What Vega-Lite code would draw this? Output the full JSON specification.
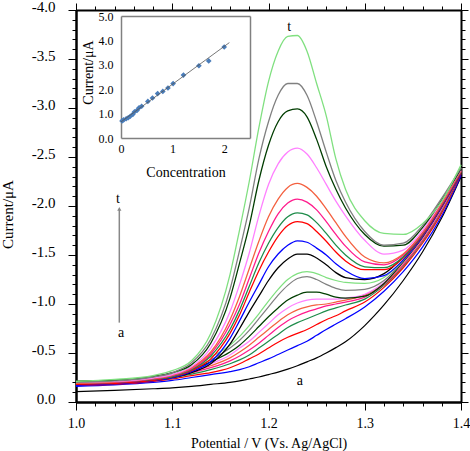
{
"$schema":"https://vega.github.io/schema/vega-lite/v6.json",
"autosize":{"type":"none"},
"width":385,"height":392,
"padding":{"left":76,"top":10,"right":9,"bottom":49},
"background":"white",
"config":{"view":{"stroke":null},
"axis":{"grid":false,"labelFont":"Liberation Serif","titleFont":"Liberation Serif","domainColor":"#000","tickColor":"#000","labelColor":"#000","titleColor":"#000","titleFontWeight":"normal","labelFlush":false,"labelOverlap":false},
"text":{"font":"Liberation Serif"}},
"datasets":{
"curves":[
{"s":"a","x":1,"y":-0.105},{"s":"a","x":1.04,"y":-0.118},{"s":"a","x":1.08,"y":-0.135},{"s":"a","x":1.1,"y":-0.145},{"s":"a","x":1.12,"y":-0.16},{"s":"a","x":1.14,"y":-0.18},{"s":"a","x":1.16,"y":-0.2},{"s":"a","x":1.17,"y":-0.215},{"s":"a","x":1.18,"y":-0.235},{"s":"a","x":1.19,"y":-0.255},{"s":"a","x":1.2,"y":-0.28},{"s":"a","x":1.21,"y":-0.305},{"s":"a","x":1.22,"y":-0.335},{"s":"a","x":1.23,"y":-0.37},{"s":"a","x":1.24,"y":-0.41},{"s":"a","x":1.25,"y":-0.45},{"s":"a","x":1.26,"y":-0.5},{"s":"a","x":1.27,"y":-0.555},{"s":"a","x":1.28,"y":-0.615},{"s":"a","x":1.3,"y":-0.78},{"s":"a","x":1.32,"y":-0.99},{"s":"a","x":1.34,"y":-1.24},{"s":"a","x":1.36,"y":-1.53},{"s":"a","x":1.38,"y":-1.88},{"s":"a","x":1.4,"y":-2.3},
{"s":"b","x":1,"y":-0.16},{"s":"b","x":1.04,"y":-0.175},{"s":"b","x":1.08,"y":-0.2},{"s":"b","x":1.1,"y":-0.22},{"s":"b","x":1.12,"y":-0.25},{"s":"b","x":1.14,"y":-0.28},{"s":"b","x":1.16,"y":-0.31},{"s":"b","x":1.17,"y":-0.33},{"s":"b","x":1.18,"y":-0.36},{"s":"b","x":1.19,"y":-0.4},{"s":"b","x":1.2,"y":-0.44},{"s":"b","x":1.21,"y":-0.485},{"s":"b","x":1.22,"y":-0.53},{"s":"b","x":1.23,"y":-0.575},{"s":"b","x":1.24,"y":-0.62},{"s":"b","x":1.25,"y":-0.68},{"s":"b","x":1.26,"y":-0.74},{"s":"b","x":1.27,"y":-0.795},{"s":"b","x":1.28,"y":-0.85},{"s":"b","x":1.3,"y":-0.97},{"s":"b","x":1.32,"y":-1.13},{"s":"b","x":1.34,"y":-1.33},{"s":"b","x":1.36,"y":-1.58},{"s":"b","x":1.38,"y":-1.9},{"s":"b","x":1.4,"y":-2.31},
{"s":"c","x":1,"y":-0.17},{"s":"c","x":1.04,"y":-0.18},{"s":"c","x":1.08,"y":-0.21},{"s":"c","x":1.1,"y":-0.235},{"s":"c","x":1.12,"y":-0.27},{"s":"c","x":1.14,"y":-0.3},{"s":"c","x":1.16,"y":-0.35},{"s":"c","x":1.17,"y":-0.39},{"s":"c","x":1.18,"y":-0.44},{"s":"c","x":1.19,"y":-0.49},{"s":"c","x":1.2,"y":-0.55},{"s":"c","x":1.21,"y":-0.61},{"s":"c","x":1.22,"y":-0.66},{"s":"c","x":1.23,"y":-0.7},{"s":"c","x":1.24,"y":-0.74},{"s":"c","x":1.25,"y":-0.79},{"s":"c","x":1.26,"y":-0.84},{"s":"c","x":1.27,"y":-0.88},{"s":"c","x":1.28,"y":-0.93},{"s":"c","x":1.3,"y":-1.02},{"s":"c","x":1.32,"y":-1.17},{"s":"c","x":1.34,"y":-1.37},{"s":"c","x":1.36,"y":-1.62},{"s":"c","x":1.38,"y":-1.93},{"s":"c","x":1.4,"y":-2.33},
{"s":"d","x":1,"y":-0.18},{"s":"d","x":1.04,"y":-0.19},{"s":"d","x":1.08,"y":-0.22},{"s":"d","x":1.1,"y":-0.245},{"s":"d","x":1.12,"y":-0.285},{"s":"d","x":1.14,"y":-0.33},{"s":"d","x":1.16,"y":-0.39},{"s":"d","x":1.17,"y":-0.43},{"s":"d","x":1.18,"y":-0.48},{"s":"d","x":1.19,"y":-0.55},{"s":"d","x":1.2,"y":-0.62},{"s":"d","x":1.21,"y":-0.69},{"s":"d","x":1.22,"y":-0.76},{"s":"d","x":1.23,"y":-0.81},{"s":"d","x":1.24,"y":-0.85},{"s":"d","x":1.25,"y":-0.89},{"s":"d","x":1.26,"y":-0.93},{"s":"d","x":1.27,"y":-0.96},{"s":"d","x":1.28,"y":-0.99},{"s":"d","x":1.3,"y":-1.05},{"s":"d","x":1.32,"y":-1.19},{"s":"d","x":1.34,"y":-1.39},{"s":"d","x":1.36,"y":-1.64},{"s":"d","x":1.38,"y":-1.95},{"s":"d","x":1.4,"y":-2.34},
{"s":"e","x":1,"y":-0.18},{"s":"e","x":1.04,"y":-0.195},{"s":"e","x":1.08,"y":-0.225},{"s":"e","x":1.1,"y":-0.255},{"s":"e","x":1.12,"y":-0.3},{"s":"e","x":1.14,"y":-0.35},{"s":"e","x":1.16,"y":-0.42},{"s":"e","x":1.17,"y":-0.47},{"s":"e","x":1.18,"y":-0.53},{"s":"e","x":1.19,"y":-0.6},{"s":"e","x":1.2,"y":-0.68},{"s":"e","x":1.21,"y":-0.76},{"s":"e","x":1.22,"y":-0.83},{"s":"e","x":1.23,"y":-0.88},{"s":"e","x":1.24,"y":-0.92},{"s":"e","x":1.25,"y":-0.95},{"s":"e","x":1.26,"y":-0.98},{"s":"e","x":1.27,"y":-1.0},{"s":"e","x":1.28,"y":-1.02},{"s":"e","x":1.3,"y":-1.07},{"s":"e","x":1.32,"y":-1.2},{"s":"e","x":1.34,"y":-1.4},{"s":"e","x":1.36,"y":-1.65},{"s":"e","x":1.38,"y":-1.96},{"s":"e","x":1.4,"y":-2.35},
{"s":"f","x":1,"y":-0.19},{"s":"f","x":1.04,"y":-0.2},{"s":"f","x":1.08,"y":-0.235},{"s":"f","x":1.1,"y":-0.265},{"s":"f","x":1.12,"y":-0.31},{"s":"f","x":1.14,"y":-0.37},{"s":"f","x":1.16,"y":-0.45},{"s":"f","x":1.17,"y":-0.51},{"s":"f","x":1.18,"y":-0.58},{"s":"f","x":1.19,"y":-0.66},{"s":"f","x":1.2,"y":-0.74},{"s":"f","x":1.21,"y":-0.82},{"s":"f","x":1.22,"y":-0.89},{"s":"f","x":1.23,"y":-0.94},{"s":"f","x":1.24,"y":-0.97},{"s":"f","x":1.25,"y":-0.99},{"s":"f","x":1.26,"y":-1.0},{"s":"f","x":1.27,"y":-1.02},{"s":"f","x":1.28,"y":-1.04},{"s":"f","x":1.3,"y":-1.09},{"s":"f","x":1.32,"y":-1.21},{"s":"f","x":1.34,"y":-1.41},{"s":"f","x":1.36,"y":-1.66},{"s":"f","x":1.38,"y":-1.97},{"s":"f","x":1.4,"y":-2.35},
{"s":"g","x":1,"y":-0.19},{"s":"g","x":1.04,"y":-0.205},{"s":"g","x":1.08,"y":-0.24},{"s":"g","x":1.1,"y":-0.27},{"s":"g","x":1.12,"y":-0.32},{"s":"g","x":1.14,"y":-0.39},{"s":"g","x":1.16,"y":-0.48},{"s":"g","x":1.17,"y":-0.55},{"s":"g","x":1.18,"y":-0.62},{"s":"g","x":1.19,"y":-0.71},{"s":"g","x":1.2,"y":-0.8},{"s":"g","x":1.21,"y":-0.89},{"s":"g","x":1.22,"y":-0.96},{"s":"g","x":1.23,"y":-1.01},{"s":"g","x":1.24,"y":-1.04},{"s":"g","x":1.25,"y":-1.05},{"s":"g","x":1.26,"y":-1.05},{"s":"g","x":1.27,"y":-1.05},{"s":"g","x":1.28,"y":-1.06},{"s":"g","x":1.3,"y":-1.1},{"s":"g","x":1.32,"y":-1.22},{"s":"g","x":1.34,"y":-1.42},{"s":"g","x":1.36,"y":-1.67},{"s":"g","x":1.38,"y":-1.98},{"s":"g","x":1.4,"y":-2.36},
{"s":"h","x":1,"y":-0.21},{"s":"h","x":1.04,"y":-0.22},{"s":"h","x":1.08,"y":-0.25},{"s":"h","x":1.1,"y":-0.28},{"s":"h","x":1.12,"y":-0.33},{"s":"h","x":1.14,"y":-0.41},{"s":"h","x":1.16,"y":-0.51},{"s":"h","x":1.17,"y":-0.58},{"s":"h","x":1.18,"y":-0.67},{"s":"h","x":1.19,"y":-0.77},{"s":"h","x":1.2,"y":-0.87},{"s":"h","x":1.21,"y":-0.96},{"s":"h","x":1.22,"y":-1.04},{"s":"h","x":1.23,"y":-1.09},{"s":"h","x":1.24,"y":-1.12},{"s":"h","x":1.25,"y":-1.12},{"s":"h","x":1.26,"y":-1.1},{"s":"h","x":1.27,"y":-1.07},{"s":"h","x":1.28,"y":-1.06},{"s":"h","x":1.3,"y":-1.08},{"s":"h","x":1.32,"y":-1.21},{"s":"h","x":1.34,"y":-1.43},{"s":"h","x":1.36,"y":-1.68},{"s":"h","x":1.38,"y":-1.99},{"s":"h","x":1.4,"y":-2.37},
{"s":"i","x":1,"y":-0.2},{"s":"i","x":1.04,"y":-0.215},{"s":"i","x":1.08,"y":-0.25},{"s":"i","x":1.1,"y":-0.285},{"s":"i","x":1.12,"y":-0.34},{"s":"i","x":1.14,"y":-0.43},{"s":"i","x":1.16,"y":-0.55},{"s":"i","x":1.17,"y":-0.63},{"s":"i","x":1.18,"y":-0.73},{"s":"i","x":1.19,"y":-0.85},{"s":"i","x":1.2,"y":-0.97},{"s":"i","x":1.21,"y":-1.09},{"s":"i","x":1.22,"y":-1.19},{"s":"i","x":1.23,"y":-1.26},{"s":"i","x":1.24,"y":-1.28},{"s":"i","x":1.25,"y":-1.25},{"s":"i","x":1.26,"y":-1.2},{"s":"i","x":1.27,"y":-1.16},{"s":"i","x":1.28,"y":-1.14},{"s":"i","x":1.3,"y":-1.15},{"s":"i","x":1.32,"y":-1.24},{"s":"i","x":1.34,"y":-1.44},{"s":"i","x":1.36,"y":-1.69},{"s":"i","x":1.38,"y":-2.0},{"s":"i","x":1.4,"y":-2.38},
{"s":"j","x":1,"y":-0.21},{"s":"j","x":1.04,"y":-0.225},{"s":"j","x":1.08,"y":-0.26},{"s":"j","x":1.1,"y":-0.295},{"s":"j","x":1.12,"y":-0.36},{"s":"j","x":1.14,"y":-0.46},{"s":"j","x":1.16,"y":-0.58},{"s":"j","x":1.17,"y":-0.67},{"s":"j","x":1.18,"y":-0.78},{"s":"j","x":1.19,"y":-0.9},{"s":"j","x":1.2,"y":-1.03},{"s":"j","x":1.21,"y":-1.15},{"s":"j","x":1.22,"y":-1.25},{"s":"j","x":1.23,"y":-1.31},{"s":"j","x":1.24,"y":-1.33},{"s":"j","x":1.25,"y":-1.31},{"s":"j","x":1.26,"y":-1.27},{"s":"j","x":1.27,"y":-1.24},{"s":"j","x":1.28,"y":-1.22},{"s":"j","x":1.3,"y":-1.21},{"s":"j","x":1.32,"y":-1.27},{"s":"j","x":1.34,"y":-1.45},{"s":"j","x":1.36,"y":-1.7},{"s":"j","x":1.38,"y":-2.01},{"s":"j","x":1.4,"y":-2.39},
{"s":"k","x":1,"y":-0.18},{"s":"k","x":1.04,"y":-0.19},{"s":"k","x":1.08,"y":-0.22},{"s":"k","x":1.1,"y":-0.25},{"s":"k","x":1.12,"y":-0.3},{"s":"k","x":1.14,"y":-0.39},{"s":"k","x":1.16,"y":-0.59},{"s":"k","x":1.17,"y":-0.75},{"s":"k","x":1.18,"y":-0.92},{"s":"k","x":1.19,"y":-1.08},{"s":"k","x":1.2,"y":-1.24},{"s":"k","x":1.21,"y":-1.37},{"s":"k","x":1.22,"y":-1.46},{"s":"k","x":1.23,"y":-1.51},{"s":"k","x":1.24,"y":-1.51},{"s":"k","x":1.25,"y":-1.47},{"s":"k","x":1.26,"y":-1.4},{"s":"k","x":1.27,"y":-1.32},{"s":"k","x":1.28,"y":-1.27},{"s":"k","x":1.3,"y":-1.25},{"s":"k","x":1.32,"y":-1.31},{"s":"k","x":1.34,"y":-1.48},{"s":"k","x":1.36,"y":-1.71},{"s":"k","x":1.38,"y":-2.0},{"s":"k","x":1.4,"y":-2.34},
{"s":"l","x":1,"y":-0.17},{"s":"l","x":1.04,"y":-0.185},{"s":"l","x":1.08,"y":-0.215},{"s":"l","x":1.1,"y":-0.245},{"s":"l","x":1.12,"y":-0.31},{"s":"l","x":1.14,"y":-0.41},{"s":"l","x":1.16,"y":-0.65},{"s":"l","x":1.17,"y":-0.83},{"s":"l","x":1.18,"y":-1.02},{"s":"l","x":1.19,"y":-1.2},{"s":"l","x":1.2,"y":-1.38},{"s":"l","x":1.21,"y":-1.51},{"s":"l","x":1.22,"y":-1.6},{"s":"l","x":1.23,"y":-1.645},{"s":"l","x":1.24,"y":-1.63},{"s":"l","x":1.25,"y":-1.57},{"s":"l","x":1.26,"y":-1.5},{"s":"l","x":1.27,"y":-1.41},{"s":"l","x":1.28,"y":-1.34},{"s":"l","x":1.3,"y":-1.26},{"s":"l","x":1.32,"y":-1.29},{"s":"l","x":1.34,"y":-1.45},{"s":"l","x":1.36,"y":-1.69},{"s":"l","x":1.38,"y":-1.99},{"s":"l","x":1.4,"y":-2.33},
{"s":"m","x":1,"y":-0.18},{"s":"m","x":1.04,"y":-0.19},{"s":"m","x":1.08,"y":-0.22},{"s":"m","x":1.1,"y":-0.255},{"s":"m","x":1.12,"y":-0.32},{"s":"m","x":1.14,"y":-0.44},{"s":"m","x":1.16,"y":-0.7},{"s":"m","x":1.17,"y":-0.89},{"s":"m","x":1.18,"y":-1.12},{"s":"m","x":1.19,"y":-1.34},{"s":"m","x":1.2,"y":-1.53},{"s":"m","x":1.21,"y":-1.69},{"s":"m","x":1.22,"y":-1.8},{"s":"m","x":1.23,"y":-1.84},{"s":"m","x":1.24,"y":-1.82},{"s":"m","x":1.25,"y":-1.74},{"s":"m","x":1.26,"y":-1.64},{"s":"m","x":1.27,"y":-1.53},{"s":"m","x":1.28,"y":-1.44},{"s":"m","x":1.3,"y":-1.35},{"s":"m","x":1.32,"y":-1.35},{"s":"m","x":1.34,"y":-1.47},{"s":"m","x":1.36,"y":-1.7},{"s":"m","x":1.38,"y":-2.0},{"s":"m","x":1.4,"y":-2.34},
{"s":"n","x":1,"y":-0.19},{"s":"n","x":1.04,"y":-0.2},{"s":"n","x":1.08,"y":-0.23},{"s":"n","x":1.1,"y":-0.26},{"s":"n","x":1.12,"y":-0.33},{"s":"n","x":1.14,"y":-0.47},{"s":"n","x":1.16,"y":-0.74},{"s":"n","x":1.17,"y":-0.94},{"s":"n","x":1.18,"y":-1.18},{"s":"n","x":1.19,"y":-1.42},{"s":"n","x":1.2,"y":-1.62},{"s":"n","x":1.21,"y":-1.78},{"s":"n","x":1.22,"y":-1.89},{"s":"n","x":1.23,"y":-1.93},{"s":"n","x":1.24,"y":-1.91},{"s":"n","x":1.25,"y":-1.83},{"s":"n","x":1.26,"y":-1.72},{"s":"n","x":1.27,"y":-1.6},{"s":"n","x":1.28,"y":-1.5},{"s":"n","x":1.3,"y":-1.38},{"s":"n","x":1.32,"y":-1.37},{"s":"n","x":1.34,"y":-1.48},{"s":"n","x":1.36,"y":-1.71},{"s":"n","x":1.38,"y":-2.01},{"s":"n","x":1.4,"y":-2.35},
{"s":"o","x":1,"y":-0.19},{"s":"o","x":1.04,"y":-0.2},{"s":"o","x":1.08,"y":-0.235},{"s":"o","x":1.1,"y":-0.27},{"s":"o","x":1.12,"y":-0.34},{"s":"o","x":1.14,"y":-0.49},{"s":"o","x":1.16,"y":-0.79},{"s":"o","x":1.17,"y":-1.0},{"s":"o","x":1.18,"y":-1.26},{"s":"o","x":1.19,"y":-1.52},{"s":"o","x":1.2,"y":-1.74},{"s":"o","x":1.21,"y":-1.92},{"s":"o","x":1.22,"y":-2.03},{"s":"o","x":1.23,"y":-2.07},{"s":"o","x":1.24,"y":-2.04},{"s":"o","x":1.25,"y":-1.96},{"s":"o","x":1.26,"y":-1.84},{"s":"o","x":1.27,"y":-1.71},{"s":"o","x":1.28,"y":-1.59},{"s":"o","x":1.3,"y":-1.43},{"s":"o","x":1.32,"y":-1.4},{"s":"o","x":1.34,"y":-1.5},{"s":"o","x":1.36,"y":-1.72},{"s":"o","x":1.38,"y":-2.02},{"s":"o","x":1.4,"y":-2.36},
{"s":"p","x":1,"y":-0.19},{"s":"p","x":1.04,"y":-0.205},{"s":"p","x":1.08,"y":-0.24},{"s":"p","x":1.1,"y":-0.275},{"s":"p","x":1.12,"y":-0.35},{"s":"p","x":1.14,"y":-0.51},{"s":"p","x":1.16,"y":-0.84},{"s":"p","x":1.17,"y":-1.08},{"s":"p","x":1.18,"y":-1.36},{"s":"p","x":1.19,"y":-1.64},{"s":"p","x":1.2,"y":-1.89},{"s":"p","x":1.21,"y":-2.07},{"s":"p","x":1.22,"y":-2.19},{"s":"p","x":1.23,"y":-2.23},{"s":"p","x":1.24,"y":-2.19},{"s":"p","x":1.25,"y":-2.1},{"s":"p","x":1.26,"y":-1.97},{"s":"p","x":1.27,"y":-1.83},{"s":"p","x":1.28,"y":-1.69},{"s":"p","x":1.3,"y":-1.48},{"s":"p","x":1.32,"y":-1.42},{"s":"p","x":1.34,"y":-1.51},{"s":"p","x":1.36,"y":-1.73},{"s":"p","x":1.38,"y":-2.03},{"s":"p","x":1.4,"y":-2.36},
{"s":"q","x":1,"y":-0.2},{"s":"q","x":1.04,"y":-0.21},{"s":"q","x":1.08,"y":-0.245},{"s":"q","x":1.1,"y":-0.28},{"s":"q","x":1.12,"y":-0.36},{"s":"q","x":1.14,"y":-0.55},{"s":"q","x":1.16,"y":-0.92},{"s":"q","x":1.17,"y":-1.2},{"s":"q","x":1.18,"y":-1.52},{"s":"q","x":1.19,"y":-1.9},{"s":"q","x":1.2,"y":-2.22},{"s":"q","x":1.21,"y":-2.43},{"s":"q","x":1.22,"y":-2.55},{"s":"q","x":1.23,"y":-2.59},{"s":"q","x":1.24,"y":-2.53},{"s":"q","x":1.25,"y":-2.39},{"s":"q","x":1.26,"y":-2.22},{"s":"q","x":1.27,"y":-2.05},{"s":"q","x":1.28,"y":-1.9},{"s":"q","x":1.3,"y":-1.65},{"s":"q","x":1.32,"y":-1.51},{"s":"q","x":1.34,"y":-1.55},{"s":"q","x":1.36,"y":-1.75},{"s":"q","x":1.38,"y":-2.05},{"s":"q","x":1.4,"y":-2.37},
{"s":"r","x":1,"y":-0.21},{"s":"r","x":1.04,"y":-0.22},{"s":"r","x":1.08,"y":-0.26},{"s":"r","x":1.1,"y":-0.3},{"s":"r","x":1.12,"y":-0.38},{"s":"r","x":1.14,"y":-0.6},{"s":"r","x":1.16,"y":-1.06},{"s":"r","x":1.17,"y":-1.42},{"s":"r","x":1.18,"y":-1.8},{"s":"r","x":1.19,"y":-2.26},{"s":"r","x":1.2,"y":-2.62},{"s":"r","x":1.21,"y":-2.86},{"s":"r","x":1.22,"y":-2.97},{"s":"r","x":1.23,"y":-2.99},{"s":"r","x":1.24,"y":-2.91},{"s":"r","x":1.25,"y":-2.68},{"s":"r","x":1.26,"y":-2.4},{"s":"r","x":1.27,"y":-2.17},{"s":"r","x":1.28,"y":-1.98},{"s":"r","x":1.3,"y":-1.71},{"s":"r","x":1.32,"y":-1.59},{"s":"r","x":1.34,"y":-1.6},{"s":"r","x":1.36,"y":-1.78},{"s":"r","x":1.38,"y":-2.06},{"s":"r","x":1.4,"y":-2.38},
{"s":"s","x":1,"y":-0.2},{"s":"s","x":1.04,"y":-0.215},{"s":"s","x":1.08,"y":-0.255},{"s":"s","x":1.1,"y":-0.3},{"s":"s","x":1.12,"y":-0.4},{"s":"s","x":1.14,"y":-0.64},{"s":"s","x":1.16,"y":-1.15},{"s":"s","x":1.17,"y":-1.55},{"s":"s","x":1.18,"y":-1.98},{"s":"s","x":1.19,"y":-2.48},{"s":"s","x":1.2,"y":-2.86},{"s":"s","x":1.21,"y":-3.13},{"s":"s","x":1.22,"y":-3.25},{"s":"s","x":1.23,"y":-3.25},{"s":"s","x":1.24,"y":-3.13},{"s":"s","x":1.25,"y":-2.86},{"s":"s","x":1.26,"y":-2.55},{"s":"s","x":1.27,"y":-2.26},{"s":"s","x":1.28,"y":-2.04},{"s":"s","x":1.3,"y":-1.74},{"s":"s","x":1.32,"y":-1.6},{"s":"s","x":1.34,"y":-1.62},{"s":"s","x":1.36,"y":-1.8},{"s":"s","x":1.38,"y":-2.08},{"s":"s","x":1.4,"y":-2.39},
{"s":"t","x":1,"y":-0.21},{"s":"t","x":1.04,"y":-0.23},{"s":"t","x":1.08,"y":-0.27},{"s":"t","x":1.1,"y":-0.32},{"s":"t","x":1.12,"y":-0.42},{"s":"t","x":1.14,"y":-0.7},{"s":"t","x":1.16,"y":-1.3},{"s":"t","x":1.17,"y":-1.76},{"s":"t","x":1.18,"y":-2.25},{"s":"t","x":1.19,"y":-2.8},{"s":"t","x":1.2,"y":-3.27},{"s":"t","x":1.21,"y":-3.58},{"s":"t","x":1.22,"y":-3.73},{"s":"t","x":1.23,"y":-3.74},{"s":"t","x":1.24,"y":-3.58},{"s":"t","x":1.25,"y":-3.25},{"s":"t","x":1.26,"y":-2.92},{"s":"t","x":1.27,"y":-2.48},{"s":"t","x":1.28,"y":-2.17},{"s":"t","x":1.3,"y":-1.85},{"s":"t","x":1.32,"y":-1.72},{"s":"t","x":1.34,"y":-1.71},{"s":"t","x":1.36,"y":-1.82},{"s":"t","x":1.38,"y":-2.05},{"s":"t","x":1.4,"y":-2.42}
],
"notes":[{"txt":"t","x":1.2216,"y":-3.83},{"txt":"a","x":1.2327,"y":-0.21},{"txt":"t","x":1.0436,"y":-2.07},{"txt":"a","x":1.0468,"y":-0.7}],
"arrow":[{"x":1.045,"y":-0.81,"y2":-1.97}],
"inset":[{"c":0.02,"i":0.7},{"c":0.05,"i":0.74},{"c":0.1,"i":0.79},{"c":0.14,"i":0.83},{"c":0.18,"i":0.89},{"c":0.23,"i":0.97},{"c":0.26,"i":1.07},{"c":0.31,"i":1.13},{"c":0.35,"i":1.24},{"c":0.4,"i":1.3},{"c":0.52,"i":1.5},{"c":0.61,"i":1.64},{"c":0.71,"i":1.82},{"c":0.81,"i":1.91},{"c":0.91,"i":2.05},{"c":1.01,"i":2.23},{"c":1.21,"i":2.58},{"c":1.51,"i":2.96},{"c":1.7,"i":3.16},{"c":2.0,"i":3.73}],
"fit":[{"c":0,"i":0.66},{"c":2.1,"i":3.91}]
},
"resolve":{"scale":{"x":"independent","y":"independent"},"axis":{"x":"independent","y":"independent"}},
"layer":[
{"data":{"name":"curves"},
"mark":{"type":"line","interpolate":"monotone"},
"encoding":{
"x":{"field":"x","type":"quantitative","scale":{"domain":[1.0,1.4],"nice":false,"zero":false},
"axis":{"orient":"bottom","values":[1.0,1.1,1.2,1.3,1.4],"format":".1f","tickSize":8,"domainWidth":2.5,"labelFontSize":14,"labelPadding":6,"title":"Potential / V (Vs. Ag/AgCl)","titleFontSize":14,"titleBaseline":"middle","titleY":41}},
"y":{"field":"y","type":"quantitative","scale":{"domain":[0,-4],"nice":false,"zero":false},
"axis":{"orient":"left","values":[0,-0.5,-1,-1.5,-2,-2.5,-3,-3.5,-4],"labelExpr":"datum.value == 0 ? '0.0' : '-' + format(abs(datum.value), '.1f')","tickSize":8,"domainWidth":2.5,"labelFontSize":15,"labelPadding":13,"labelOffset":-4,"title":"Current/μA","titleFontSize":15,"titleBaseline":"middle","titleX":-69,"titleY":204}},
"color":{"field":"s","type":"nominal","legend":null,"scale":{"domain":["a","b","c","d","e","f","g","h","i","j","k","l","m","n","o","p","q","r","s","t"],"range":["#000000","#0000ff","#ff0000","#1e8c4a","#ff1a8c","#f4603f","#ff80ff","#003d00","#808080","#80e080","#000000","#0000ff","#ff0000","#1e8c4a","#ff1a8c","#f4603f","#ff80ff","#003d00","#808080","#80e080"]}},
"strokeWidth":{"field":"s","type":"ordinal","legend":null,"scale":{"domain":["a","b","c","d","e","f","g","h","i","j","k","l","m","n","o","p","q","r","s","t"],"range":[1.2,1.3,1.3,1.3,1.3,1.3,1.3,1.3,1.3,1.3,2,2,2,2,2,2,2,2,2,2]}}
}},
{"data":{"name":"notes"},
"mark":{"type":"text","fontSize":14,"baseline":"middle","align":"center","color":"#000"},
"encoding":{
"x":{"field":"x","type":"quantitative","scale":{"domain":[1.0,1.4],"nice":false,"zero":false},
"axis":{"orient":"bottom","values":[1.0,1.02,1.04,1.06,1.08,1.1,1.12,1.14,1.16,1.18,1.2,1.22,1.24,1.26,1.28,1.3,1.32,1.34,1.36,1.38,1.4],"tickSize":4,"labels":false,"domain":false,"title":null}},
"y":{"field":"y","type":"quantitative","scale":{"domain":[0,-4],"nice":false,"zero":false},
"axis":{"orient":"left","values":[0,-0.1,-0.2,-0.3,-0.4,-0.5,-0.6,-0.7,-0.8,-0.9,-1,-1.1,-1.2,-1.3,-1.4,-1.5,-1.6,-1.7,-1.8,-1.9,-2,-2.1,-2.2,-2.3,-2.4,-2.5,-2.6,-2.7,-2.8,-2.9,-3,-3.1,-3.2,-3.3,-3.4,-3.5,-3.6,-3.7,-3.8,-3.9,-4],"tickSize":4,"labels":false,"domain":false,"title":null}},
"text":{"field":"txt"}
}},
{"data":{"name":"arrow"},
"mark":{"type":"rule","color":"#888888","strokeWidth":1.5},
"encoding":{
"x":{"field":"x","type":"quantitative","scale":{"domain":[1.0,1.4],"nice":false,"zero":false},
"axis":{"orient":"top","values":[1.0,1.1,1.2,1.3,1.4],"tickSize":7,"labels":false,"domainWidth":2,"title":null}},
"y":{"field":"y","type":"quantitative","scale":{"domain":[0,-4],"nice":false,"zero":false},
"axis":{"orient":"right","values":[0,-0.5,-1,-1.5,-2,-2.5,-3,-3.5,-4],"tickSize":7,"labels":false,"domainWidth":2,"title":null}},
"y2":{"field":"y2"}
}},
{"data":{"name":"arrow"},
"mark":{"type":"point","shape":"triangle-up","filled":true,"color":"#888888","size":18,"opacity":1},
"encoding":{
"x":{"field":"x","type":"quantitative","scale":{"domain":[1.0,1.4],"nice":false,"zero":false},
"axis":{"orient":"top","values":[1.0,1.02,1.04,1.06,1.08,1.1,1.12,1.14,1.16,1.18,1.2,1.22,1.24,1.26,1.28,1.3,1.32,1.34,1.36,1.38,1.4],"tickSize":4,"labels":false,"domain":false,"title":null}},
"y":{"field":"y2","type":"quantitative","scale":{"domain":[0,-4],"nice":false,"zero":false},
"axis":{"orient":"right","values":[0,-0.1,-0.2,-0.3,-0.4,-0.5,-0.6,-0.7,-0.8,-0.9,-1,-1.1,-1.2,-1.3,-1.4,-1.5,-1.6,-1.7,-1.8,-1.9,-2,-2.1,-2.2,-2.3,-2.4,-2.5,-2.6,-2.7,-2.8,-2.9,-3,-3.1,-3.2,-3.3,-3.4,-3.5,-3.6,-3.7,-3.8,-3.9,-4],"tickSize":4,"labels":false,"domain":false,"title":null}}
}},
{"data":{"name":"inset"},
"mark":{"type":"point","shape":"diamond","filled":true,"color":"#4a7dba","size":32,"opacity":1},
"encoding":{
"x":{"field":"c","type":"quantitative","scale":{"domain":[0,2.5],"range":[45,174],"nice":false,"zero":false},
"axis":{"orient":"bottom","offset":-264,"values":[0,1,2],"ticks":false,"tickSize":0,"labelPadding":5,"labelFontSize":12,"domainColor":"#808080","domainWidth":1.5,"title":"Concentration","titleFontSize":14,"titleBaseline":"middle","titleY":34}},
"y":{"field":"i","type":"quantitative","scale":{"domain":[0,5],"range":[128,6],"nice":false,"zero":false},
"axis":{"orient":"left","offset":-45,"values":[0,1,2,3,4,5],"format":".1f","ticks":false,"tickSize":0,"labelPadding":8,"labelFontSize":12,"domainColor":"#808080","domainWidth":1.5,"title":"Current/μA","titleFontSize":14,"titleBaseline":"middle","titleX":-33,"titleY":62}}
}},
{"data":{"name":"fit"},
"mark":{"type":"line","color":"#555555","strokeWidth":0.8},
"encoding":{
"x":{"field":"c","type":"quantitative","scale":{"domain":[0,2.5],"range":[45,174],"nice":false,"zero":false},
"axis":{"orient":"top","offset":-6,"ticks":false,"labels":false,"domainColor":"#808080","domainWidth":1.5,"title":null}},
"y":{"field":"i","type":"quantitative","scale":{"domain":[0,5],"range":[128,6],"nice":false,"zero":false},
"axis":{"orient":"right","offset":-211,"ticks":false,"labels":false,"domainColor":"#808080","domainWidth":1.5,"title":null}}
}}
]
}
